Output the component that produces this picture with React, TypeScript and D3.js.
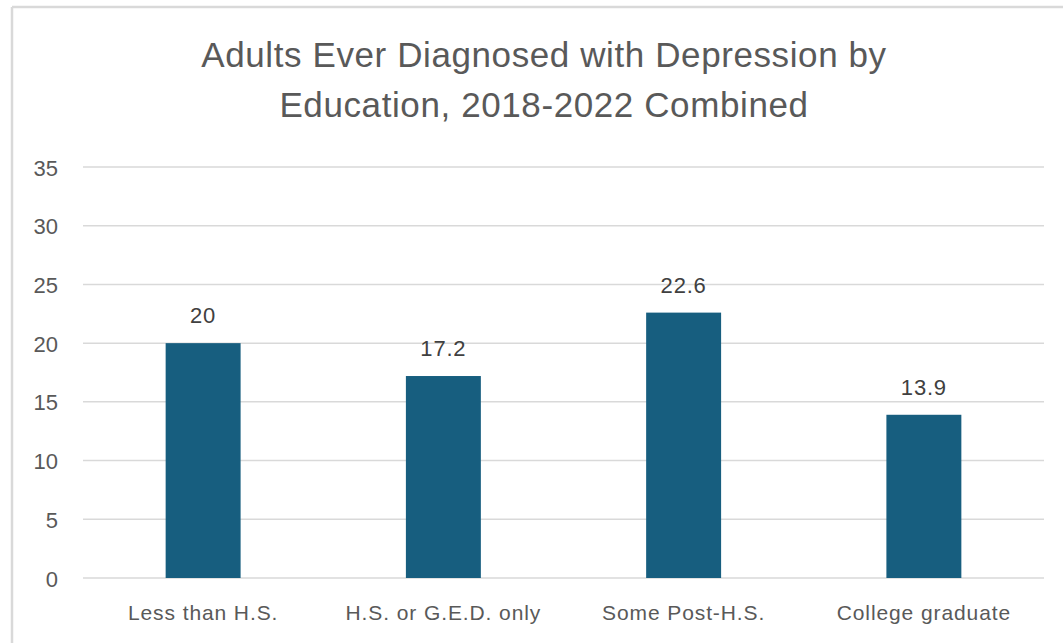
import React from "react";
import * as d3 from "d3";

const categories = ["Less than H.S.", "H.S. or G.E.D. only", "Some Post-H.S.", "College graduate"];
const values = [20, 17.2, 22.6, 13.9];
const valueLabels = ["20", "17.2", "22.6", "13.9"];
const yTicks = [0, 5, 10, 15, 20, 25, 30, 35];
const titleLines = ["Adults Ever Diagnosed with Depression by", "Education, 2018-2022 Combined"];

const W = 1063;
const H = 643;
const plotLeft = 83;
const plotRight = 1044;
const plotTop = 167;
const plotBottom = 578;

export default function App() {
  const x = d3.scaleBand<string>().domain(categories).range([plotLeft, plotRight]).paddingInner(0.688).paddingOuter(0.344);
  const y = d3.scaleLinear().domain([0, 35]).range([plotBottom, plotTop]);
  const font = "'Liberation Sans', Arial, sans-serif";
  return (
    <svg width={W} height={H} style={{ position: "absolute", left: 0, top: 0, background: "#fff" }}>
      <rect x={0} y={0} width={W} height={H} fill="#fff" />
      <line x1={12} y1={7} x2={W} y2={7} stroke="#d9d9d9" strokeWidth={2.5} />
      <line x1={12} y1={7} x2={12} y2={H} stroke="#d9d9d9" strokeWidth={2.5} />
      {titleLines.map((t, i) => (
        <text key={i} x={544} y={67 + i * 50} textAnchor="middle" fontFamily={font} fontSize={35} letterSpacing={0.6} fill="#595959">
          {t}
        </text>
      ))}
      {yTicks.map((t) => (
        <g key={t}>
          <line x1={plotLeft} x2={plotRight} y1={y(t)} y2={y(t)} stroke="#d9d9d9" strokeWidth={1.5} />
          <text x={58} y={y(t) + 8.5} textAnchor="end" fontFamily={font} fontSize={22} fill="#595959">
            {t}
          </text>
        </g>
      ))}
      {categories.map((c, i) => (
        <g key={c}>
          <rect x={x(c)} y={y(values[i])} width={x.bandwidth()} height={y(0) - y(values[i])} fill="#175e7f" />
          <text x={(x(c) ?? 0) + x.bandwidth() / 2} y={y(values[i]) - 20} textAnchor="middle" fontFamily={font} fontSize={22} letterSpacing={0.8} fill="#404040">
            {valueLabels[i]}
          </text>
          <text x={(x(c) ?? 0) + x.bandwidth() / 2} y={620} textAnchor="middle" fontFamily={font} fontSize={21} letterSpacing={0.9} fill="#595959">
            {c}
          </text>
        </g>
      ))}
    </svg>
  );
}
